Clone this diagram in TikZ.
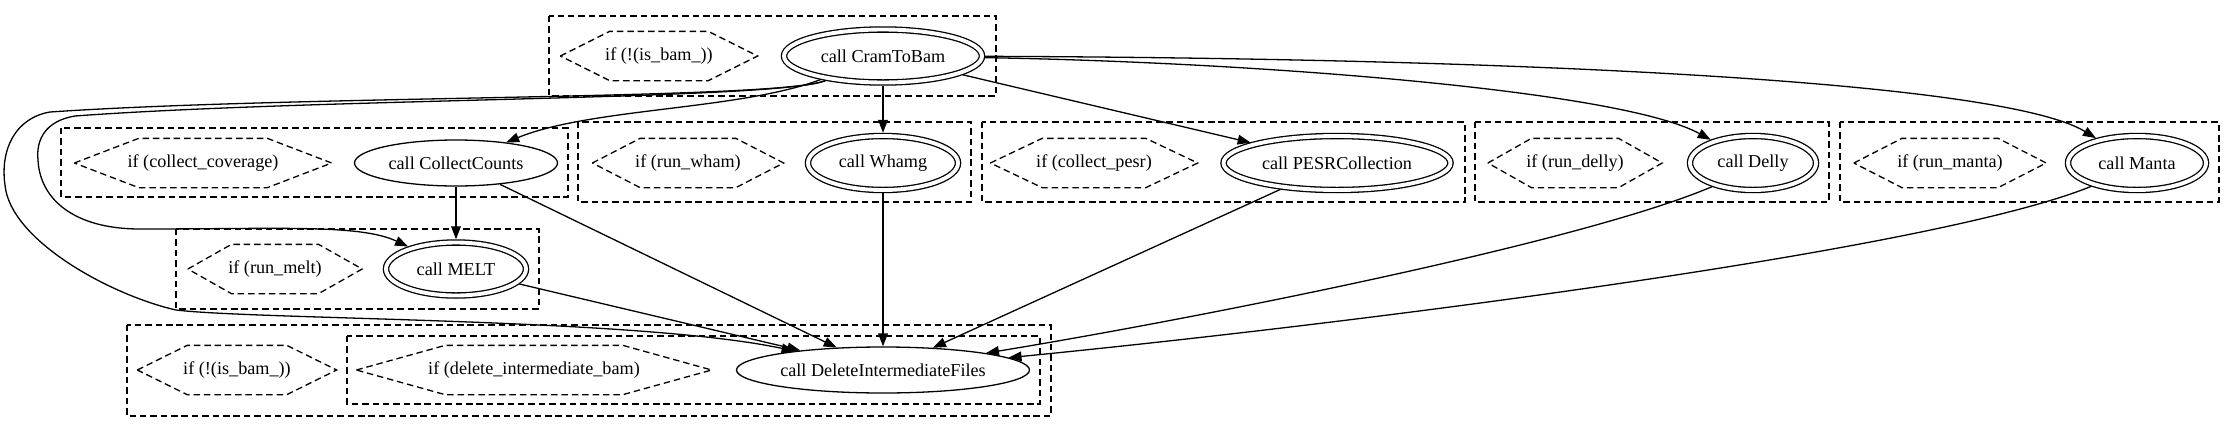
\documentclass[tikz,border=0pt]{standalone}
\usepackage{fontspec}
\setmainfont{Liberation Serif}
\usetikzlibrary{shapes.geometric,arrows.meta,calc}
\def\pxu{0.77pt}

\begin{document}
\begin{tikzpicture}[x=\pxu, y=-\pxu, line width=1pt, >={Triangle[length=10pt,width=7.5pt]}]
  \tikzstyle{call}=[ellipse,draw,inner sep=0pt,font=\fontsize{14pt}{17pt}\selectfont]
  \tikzstyle{subwf}=[call,double,double distance=3pt,outer sep=2.5pt]
  \tikzstyle{cond}=[inner sep=0pt,minimum height=48*\pxu,font=\fontsize{14pt}{17pt}\selectfont]
  \tikzstyle{cluster}=[draw,dash pattern=on 5pt off 3pt]
  \tikzstyle{flow}=[->]

  \useasboundingbox (0,0) rectangle (2235,432);

  % scatter blocks
  \foreach \xa/\ya/\xb/\yb in {549/16/996/96, 61/128/568/197, 578/122/971/202,
      982/122/1465/202, 1475/122/1829/202, 1840/122/2219/202, 176/229/539/309,
      127/325/1051/416, 347/336/1040/404}
    \draw[cluster] (\xa,\ya) rectangle (\xb,\yb);

  \node[cond,minimum width=196*\pxu] (ifbam) at (659,56) {if (!(is\_bam\_))};
  \node[subwf,minimum width=198*\pxu,minimum height=53*\pxu] (cram) at (883,56) {call CramToBam};

  \node[cond,minimum width=256*\pxu] (ifcov) at (203,163) {if (collect\_coverage)};
  \node[call,minimum width=203*\pxu,minimum height=46*\pxu] (coll) at (456,163) {call CollectCounts};
  \node[cond,minimum width=190*\pxu] (ifwham) at (688,163) {if (run\_wham)};
  \node[subwf,minimum width=150*\pxu,minimum height=54*\pxu] (whamg) at (883,163) {call Whamg};
  \node[cond,minimum width=206*\pxu] (ifpesr) at (1094,163) {if (collect\_pesr)};
  \node[subwf,minimum width=227*\pxu,minimum height=54*\pxu] (pesr) at (1337,163) {call PESRCollection};
  \node[cond,minimum width=173*\pxu] (ifdelly) at (1575,163) {if (run\_delly)};
  \node[subwf,minimum width=126*\pxu,minimum height=54*\pxu] (delly) at (1753,163) {call Delly};
  \node[cond,minimum width=191*\pxu] (ifmanta) at (1950,163) {if (run\_manta)};
  \node[subwf,minimum width=138*\pxu,minimum height=54*\pxu] (manta) at (2137,163) {call Manta};

  \node[cond,minimum width=173*\pxu] (ifmelt) at (275,269) {if (run\_melt)};
  \node[subwf,minimum width=140*\pxu,minimum height=53*\pxu] (melt) at (456,269) {call MELT};

  \node[cond,minimum width=198*\pxu] (ifbamdel) at (237,370) {if (!(is\_bam\_))};
  \node[cond,minimum width=354*\pxu] (ifdelbam) at (534,370) {if (delete\_intermediate\_bam)};
  \node[call,minimum width=293*\pxu,minimum height=46*\pxu] (delfiles) at (883,370) {call DeleteIntermediateFiles};

  % conditions
  \foreach \h in {ifbam,ifcov,ifwham,ifpesr,ifdelly,ifmanta,ifmelt,ifbamdel,ifdelbam}
    \draw[cluster] (\h.west) -- ($(\h.north west)!.25!(\h.north east)$)
      -- ($(\h.north west)!.75!(\h.north east)$) -- (\h.east)
      -- ($(\h.south west)!.75!(\h.south east)$) -- ($(\h.south west)!.25!(\h.south east)$) -- cycle;

  \foreach \dest in {whamg,pesr}
    \path[flow] (cram) edge (\dest);
  \path[flow] (coll) edge (melt);
  \foreach \source in {coll,melt,whamg}
    \path[flow] (\source) edge (delfiles);
  \draw[flow] (pesr.205) -- (delfiles.24);
  \draw[flow] (delly.210) .. controls (1582,242) and (1200,318) .. (delfiles);
  \draw[flow] (manta.207) .. controls (1930,252) and (1331,326) .. (delfiles);

  \draw[flow] (cram) .. controls (740,110) and (590,108) .. (coll);
  \draw[flow] (cram) .. controls (1250,62) and (1620,90) .. (delly);
  \draw[flow] (cram) .. controls (1500,58) and (2000,80) .. (manta);
  \draw[flow] (cram) .. controls (780,100) and (320,98) .. (75,116)
    .. controls (45,121) and (36,140) .. (38,160)
    .. controls (40,200) and (75,229) .. (140,229)
    .. controls (280,229) and (360,224) .. (melt);
  \draw[flow] (cram) .. controls (780,100) and (300,95) .. (50,112)
    .. controls (15,118) and (0,150) .. (5,185)
    .. controls (10,240) and (110,295) .. (176,310)
    .. controls (260,320) and (640,318) .. (delfiles);
\end{tikzpicture}
\end{document}
